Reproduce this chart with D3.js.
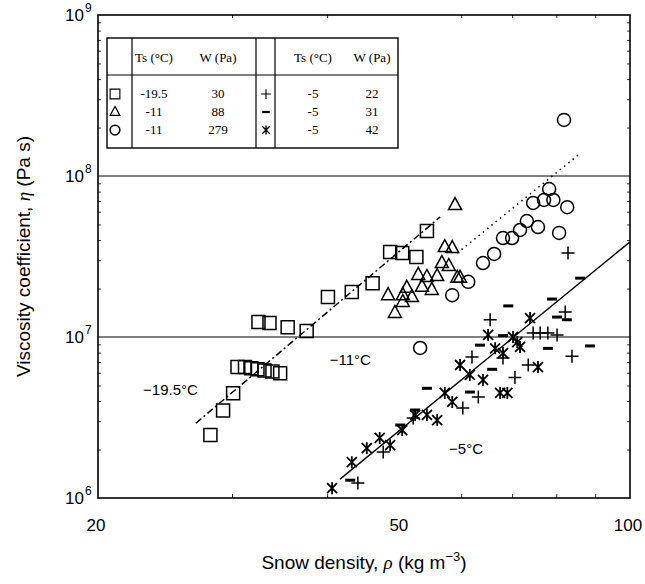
<!DOCTYPE html>
<html><head><meta charset="utf-8">
<script src="https://cdn.jsdelivr.net/npm/d3@7"></script>
<style>body{margin:0;background:#fff}</style>
</head><body><svg id="c" width="645" height="584"></svg>
<script>
// ---------- data ----------
const xTickValues=[20,50,100];
const yTickValues=[1e6,1e7,1e8,1e9];
const yTickExps=[6,7,8,9];
const gridValues=[1e7,1e8];
const xMinor=[30,40,60,70,80,90];

// -19.5 C, W=30 Pa (squares)
const squares=[[28.1,2.46e6],[29.2,3.49e6],[30.1,4.47e6],[30.5,6.5e6],[31.2,6.5e6],[31.8,6.4e6],[32.4,6.3e6],[33.1,6.2e6],[33.9,6.1e6],[34.7,5.95e6],
 [32.5,12.4e6],[33.6,12.2e6],[35.5,11.5e6],[37.6,10.9e6],[40.1,17.7e6],[43.1,19.0e6],[45.9,21.6e6],[48.4,33.7e6],[50.2,33.2e6],[52.4,31.4e6],[54.1,45.5e6]];
// -11 C, W=88 Pa (triangles)
const triangles=[[58.9,66e6],[57.1,36.2e6],[58.4,35.7e6],[56.6,28.8e6],[57.8,27.6e6],[52.7,24.3e6],[54.1,23.6e6],[55.8,23.9e6],[59.3,23.3e6],[59.8,23.3e6],
 [50.9,20.2e6],[53.3,20.5e6],[54.9,19.6e6],[48.1,18.2e6],[50.3,18.2e6],[51.7,17.7e6],[50.3,16.5e6],[49.1,14.1e6]];
// -11 C, W=279 Pa (circles)
const circles=[[81.9,223e6],[78.3,83e6],[74.6,68e6],[77.1,71e6],[79.3,71e6],[82.7,64e6],[73.2,52.5e6],[75.7,48.2e6],[80.7,44.3e6],[71.7,46.2e6],
 [70.0,41.2e6],[68.1,41.2e6],[66.3,32.8e6],[64.1,28.8e6],[61.3,22.0e6],[58.4,18.2e6],[53.0,8.55e6]];
// -5 C, W=22 Pa (plus)
const pluses=[[82.9,33.2e6],[65.5,12.8e6],[82.2,14.3e6],[62.0,7.5e6],[83.9,7.6e6],[73.5,6.7e6],[70.6,5.6e6],[63.2,4.24e6],[60.3,3.62e6],[47.4,1.93e6],
 [43.9,1.24e6],[51.9,3.14e6],[74.6,10.6e6],[76.2,10.6e6],[78.0,10.6e6],[80.2,10.3e6],[68.1,7.4e6]];
// -5 C, W=31 Pa (minus)
const minuses=[[86.0,23.2e6],[79.0,17.2e6],[69.2,15.6e6],[82.6,12.8e6],[80.2,13.3e6],[63.5,8.9e6],[78.0,8.5e6],[88.6,8.8e6],[65.9,6.3e6],[54.1,4.8e6],
 [61.6,4.55e6],[49.9,2.84e6],[52.2,3.52e6],[42.9,1.29e6],[68.1,10.2e6]];
// -5 C, W=42 Pa (asterisks)
const stars=[[40.6,1.15e6],[43.1,1.67e6],[45.1,2.04e6],[46.9,2.36e6],[48.4,2.13e6],[50.2,2.64e6],[52.2,3.28e6],[54.1,3.28e6],[55.8,3.05e6],[57.1,4.49e6],
 [58.4,3.95e6],[59.8,6.7e6],[61.6,5.81e6],[64.1,5.41e6],[65.1,10.3e6],[66.5,8.5e6],[67.5,4.49e6],[69.0,4.49e6],[68.1,7.95e6],[70.2,10e6],[71.7,8.67e6],
 [73.9,13.1e6],[75.7,6.5e6],[71.1,9.3e6]];

// regression lines
const fitNames=['-19.5','-11','-5'];
const fitX=[[26.9,56.3],[59.3,85.5],[41.6,100]];
const fitY=[[2.92e6,55.6e6],[33.2e6,135e6],[1.31e6,39e6]];
const fitDash=['7,3,2,3','1.5,4',null];

// annotations
const annText=['\u221219.5\u00B0C','\u221211\u00B0C','\u22125\u00B0C'];
const annX=[24.9,42.9,60.9];
const annY=[4.69e6,7.2e6,2.02e6];

// legend table
const legLeftSym=['square','triangle','circle'];
const legLeftTs=['-19.5','-11','-11'];
const legLeftW=['30','88','279'];
const legRightSym=['plus','minus','star'];
const legRightTs=['-5','-5','-5'];
const legRightW=['22','31','42'];

// ---------- drawing ----------
const svg=d3.select('#c');
const L=98,R=630,T=15,B=498;
const x=d3.scaleLog().domain([20,100]).range([L,R]);
const y=d3.scaleLog().domain([1e6,1e9]).range([B,T]);
const sans='"Liberation Sans", Arial, sans-serif';
const serif='"Liberation Serif", "Times New Roman", serif';

const shapes={
 square:'M-6.5,-6.5h13v13h-13z',
 triangle:'M0,-7.5L6.5,4.5L-6.5,4.5Z',
 plus:'M-6.5,0H6.5M0,-6.5V6.5',
 minus:'M-5,0H5',
 star:'M-5,-5L5,5M-5,5L5,-5M0,-6V6'
};
function mark(g,type,px,py,s){
 s=s||1;
 if(type==='circle'){
  g.append('circle').attr('cx',px).attr('cy',py).attr('r',6.5*s).attr('fill','none').attr('stroke','#000').attr('stroke-width',1.5);
 } else {
  g.append('path').attr('d',shapes[type]).attr('transform',`translate(${px},${py}) scale(${s})`)
   .attr('fill','none').attr('stroke','#000')
   .attr('stroke-width',type==='minus'?3:(type==='star'?1.8:1.5));
 }
}

// grid
svg.append('g').selectAll('line').data(gridValues).join('line')
 .attr('x1',L).attr('x2',R).attr('y1',d=>y(d)).attr('y2',d=>y(d)).attr('stroke','#000').attr('stroke-width',1);

// axes with ticks (inner minor ticks)
const xAxis=d3.axisBottom(x).tickValues(xMinor).tickSize(-4).tickFormat('');
svg.append('g').attr('transform',`translate(0,${B})`).call(xAxis).call(g=>g.select('.domain').remove());
const xAxisT=d3.axisTop(x).tickValues(xMinor).tickSize(-3).tickFormat('');
svg.append('g').attr('transform',`translate(0,${T})`).call(xAxisT).call(g=>g.select('.domain').remove());
const yMinor=[];
[1e6,1e7,1e8].forEach(d=>{for(let k=2;k<10;k++)yMinor.push(d*k);});
svg.append('g').attr('transform',`translate(${L},0)`).call(d3.axisLeft(y).tickValues(yMinor).tickSize(-3).tickFormat('')).call(g=>g.select('.domain').remove());
svg.append('g').attr('transform',`translate(${R},0)`).call(d3.axisRight(y).tickValues(yMinor).tickSize(-3).tickFormat('')).call(g=>g.select('.domain').remove());
svg.selectAll('.tick line').attr('stroke','#000').attr('stroke-width',0.8);

// frame
svg.append('rect').attr('x',L).attr('y',T).attr('width',R-L).attr('height',B-T).attr('fill','none').attr('stroke','#000').attr('stroke-width',1.6);

// x tick labels
svg.append('g').selectAll('text').data(xTickValues).join('text')
 .attr('x',d=>x(d)-2).attr('y',B+33).attr('text-anchor','middle').attr('font-family',sans).attr('font-size',17).text(d=>d);
// y tick labels
const yl=svg.append('g').selectAll('g').data(yTickValues).join('g').attr('transform',d=>`translate(${L-6},${y(d)+6})`);
yl.append('text').attr('text-anchor','end').attr('x',-8).attr('font-family',sans).attr('font-size',17).text('10');
yl.append('text').attr('x',-7).attr('y',-9).attr('font-family',sans).attr('font-size',12).text((d,i)=>yTickExps[i]);

// axis titles
const xt=svg.append('text').attr('x',(L+R)/2).attr('y',569).attr('text-anchor','middle').attr('font-family',sans).attr('font-size',19);
xt.append('tspan').text('Snow density, ');
xt.append('tspan').attr('font-style','italic').attr('font-family',serif).text('\u03C1');
xt.append('tspan').text(' (kg m');
xt.append('tspan').attr('dy',-8).attr('font-size',13).text('\u22123');
xt.append('tspan').attr('dy',8).text(')');
const yt=svg.append('text').attr('transform',`translate(30,${(T+B)/2}) rotate(-90)`).attr('text-anchor','middle').attr('font-family',sans).attr('font-size',19);
yt.append('tspan').text('Viscosity coefficient, ');
yt.append('tspan').attr('font-style','italic').attr('font-family',serif).text('\u03B7');
yt.append('tspan').text('  (Pa s)');

// fit lines
fitNames.forEach((n,i)=>{
 const ln=svg.append('line').attr('x1',x(fitX[i][0])).attr('y1',y(fitY[i][0])).attr('x2',x(fitX[i][1])).attr('y2',y(fitY[i][1]))
  .attr('stroke','#000').attr('stroke-width',i===2?1.4:1.5);
 if(fitDash[i])ln.attr('stroke-dasharray',fitDash[i]);
});

// annotations
svg.append('g').selectAll('text').data(annText).join('text')
 .attr('x',(d,i)=>x(annX[i])).attr('y',(d,i)=>y(annY[i])+5).attr('text-anchor','middle').attr('font-family',sans).attr('font-size',15).text(d=>d);

// markers
const gm=svg.append('g');
[[squares,'square'],[triangles,'triangle'],[circles,'circle'],[pluses,'plus'],[minuses,'minus'],[stars,'star']].forEach(([arr,t])=>{
 arr.forEach(d=>mark(gm,t,x(d[0]),y(d[1])));
});

// legend table
const lg=svg.append('g');
const tL=107,tR=398,tT=38,tH=75,tB=148;
const colDiv=[132,256,275];
lg.append('rect').attr('x',tL).attr('y',tT).attr('width',tR-tL).attr('height',tB-tT).attr('fill','#fff').attr('stroke','#000').attr('stroke-width',1.4);
lg.append('line').attr('x1',tL).attr('x2',tR).attr('y1',tH).attr('y2',tH).attr('stroke','#000').attr('stroke-width',1.2);
colDiv.forEach(cx=>lg.append('line').attr('x1',cx).attr('x2',cx).attr('y1',tT).attr('y2',tB).attr('stroke','#000').attr('stroke-width',1.2));
const hdr=[['Ts (\u00B0C)',154],['W (Pa)',218],['Ts (\u00B0C)',313],['W (Pa)',372]];
hdr.forEach(([t,cx])=>lg.append('text').attr('x',cx).attr('y',62).attr('text-anchor','middle').attr('font-family',serif).attr('font-size',13).text(t));
const rowY=[94,112,130];
rowY.forEach((ry,i)=>{
 mark(lg,legLeftSym[i],115,ry,0.75);
 lg.append('text').attr('x',154).attr('y',ry+4).attr('text-anchor','middle').attr('font-family',serif).attr('font-size',13).text(legLeftTs[i]);
 lg.append('text').attr('x',218).attr('y',ry+4).attr('text-anchor','middle').attr('font-family',serif).attr('font-size',13).text(legLeftW[i]);
 mark(lg,legRightSym[i],266,ry,0.75);
 lg.append('text').attr('x',313).attr('y',ry+4).attr('text-anchor','middle').attr('font-family',serif).attr('font-size',13).text(legRightTs[i]);
 lg.append('text').attr('x',372).attr('y',ry+4).attr('text-anchor','middle').attr('font-family',serif).attr('font-size',13).text(legRightW[i]);
});
</script>
</body></html>
